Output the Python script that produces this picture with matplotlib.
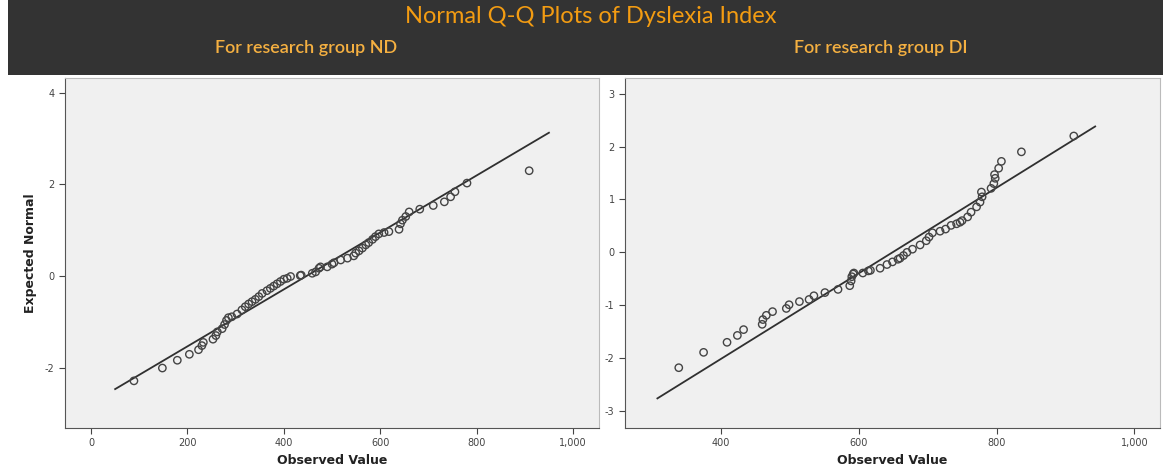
import matplotlib.pyplot as plt
from matplotlib.patches import Rectangle
from matplotlib.ticker import FuncFormatter

plt.rcParams["axes.unicode_minus"] = False

nd_observed = [89, 148, 179, 204, 223, 230, 233, 253, 259, 262, 272, 277, 281, 285,
               292, 303, 313, 320, 327, 334, 341, 348, 355, 365, 372, 379, 386, 393,
               400, 407, 414, 434, 436, 459, 466, 473, 476, 490, 500, 504, 518, 532,
               545, 549, 556, 563, 570, 576, 584, 590, 597, 608, 618, 639, 642, 646,
               653, 660, 682, 710, 733, 746, 755, 780, 909]
nd_expected = [-2.29, -2.01, -1.84, -1.71, -1.61, -1.52, -1.45, -1.38, -1.30, -1.22, -1.15,
               -1.06, -0.97, -0.91, -0.89, -0.83, -0.74, -0.67, -0.61, -0.56, -0.51, -0.45,
               -0.38, -0.32, -0.27, -0.22, -0.17, -0.12, -0.07, -0.05, -0.01, 0.01, 0.02,
               0.06, 0.09, 0.17, 0.20, 0.20, 0.26, 0.29, 0.35, 0.39, 0.44, 0.50, 0.55,
               0.61, 0.68, 0.73, 0.80, 0.86, 0.92, 0.95, 0.97, 1.02, 1.14, 1.22, 1.30,
               1.40, 1.46, 1.54, 1.62, 1.73, 1.84, 2.03, 2.30]
nd_line_x = [50, 950]
nd_line_y = [-2.47, 3.13]

# Group DI
di_observed = [339, 375, 409, 424, 433, 460, 461, 466, 475, 495, 499, 514, 528, 535,
               551, 570, 587, 589, 590, 592, 593, 606, 614, 617, 631, 641, 649, 657,
               660, 665, 670, 678, 689, 698, 702, 707, 718, 726, 734, 742, 747, 750,
               758, 763, 771, 776, 779, 778, 792, 796, 798, 797, 803, 807, 836, 912]
di_expected = [-2.18, -1.89, -1.70, -1.57, -1.46, -1.36, -1.27, -1.19, -1.12, -1.06, -0.99,
               -0.93, -0.89, -0.82, -0.76, -0.70, -0.63, -0.54, -0.46, -0.41, -0.39, -0.39,
               -0.35, -0.34, -0.30, -0.23, -0.18, -0.13, -0.11, -0.06, 0.00, 0.06, 0.14,
               0.22, 0.29, 0.37, 0.40, 0.44, 0.51, 0.54, 0.57, 0.60, 0.67, 0.76, 0.86,
               0.95, 1.05, 1.14, 1.21, 1.30, 1.40, 1.47, 1.59, 1.72, 1.90, 2.20]
di_line_x = [308, 943]
di_line_y = [-2.76, 2.38]

fig = plt.figure(figsize=(11.63, 4.72), dpi=100)
fig.patch.set_facecolor("white")

# dark header band
fig.patches.append(Rectangle((0.007, 0.841), 0.993, 0.159, transform=fig.transFigure,
                             facecolor="#333333", edgecolor="none", zorder=0))
fig.text(0.508, 0.964, "Normal Q-Q Plots of Dyslexia Index", ha="center", va="center",
         color="#F39C12", fontsize=17, family="Lato")
fig.text(0.263, 0.898, "For research group ND", ha="center", va="center",
         color="#F5B041", fontsize=13, family="Lato", fontweight="semibold")
fig.text(0.757, 0.898, "For research group DI", ha="center", va="center",
         color="#F5B041", fontsize=13, family="Lato", fontweight="semibold")

comma = FuncFormatter(lambda v, p: f"{int(v):,}")


def qq_panel(rect, obs, exp, lx, ly, xlim, ylim, xticks, yticks, ylabel):
    ax = fig.add_axes(rect)
    ax.set_facecolor("#f0f0f0")
    ax.plot(lx, ly, color="#303030", linewidth=1.3, zorder=2)
    ax.scatter(obs, exp, s=28, facecolors="none", edgecolors="#444444",
               linewidths=1.0, zorder=3)
    ax.set_xlim(xlim)
    ax.set_ylim(ylim)
    ax.set_xticks(xticks)
    ax.set_yticks(yticks)
    ax.xaxis.set_major_formatter(comma)
    ax.tick_params(labelsize=7, colors="#444444", length=4, direction="out")
    for s in ["left", "bottom"]:
        ax.spines[s].set_color("#555555")
    for s in ["top", "right"]:
        ax.spines[s].set_color("#bbbbbb")
    ax.set_xlabel("Observed Value", fontsize=9, fontweight="bold", color="#222222")
    if ylabel:
        ax.set_ylabel("Expected Normal", fontsize=9, fontweight="bold", color="#222222",
                      labelpad=6)
    return ax


qq_panel([0.0559, 0.0932, 0.4592, 0.742], nd_observed, nd_expected, nd_line_x, nd_line_y,
         (-54, 1054), (-3.32, 4.33), [0, 200, 400, 600, 800, 1000], [-2, 0, 2, 4], True)
qq_panel([0.5374, 0.0932, 0.4600, 0.742], di_observed, di_expected, di_line_x, di_line_y,
         (261, 1037), (-3.32, 3.30), [400, 600, 800, 1000], [-3, -2, -1, 0, 1, 2, 3], False)

fig.savefig("out.png", dpi=100)
